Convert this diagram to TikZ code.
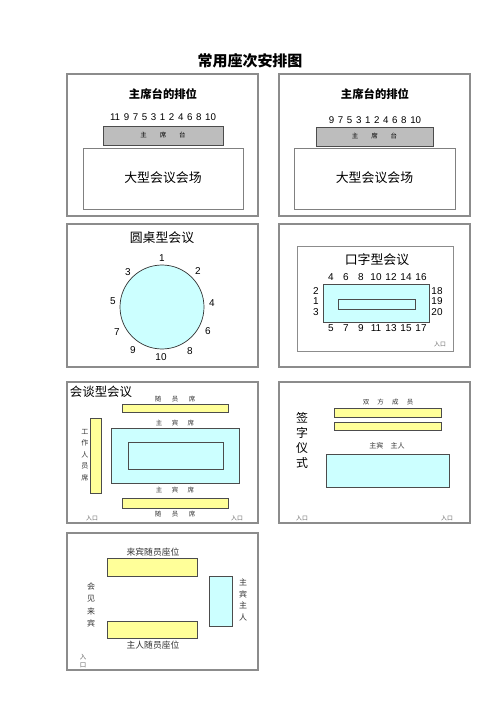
\documentclass[tikz,border=0pt]{standalone}
\usepackage{fontspec}
\setmainfont{Liberation Sans}
\newfontfamily\cjk{Noto Sans CJK SC}
\newcommand{\fsz}[2]{\fontsize{#1}{#2}\selectfont}
\newcommand{\widespace}{\spaceskip=3.1pt\relax}
\definecolor{tablecyan}{HTML}{CCFFFF}
\definecolor{seatyellow}{HTML}{FFFF99}
\definecolor{stagegray}{HTML}{BDBDBD}
\begin{document}
\begin{tikzpicture}[x=0.3mm, y=-0.3mm,
    panel/.style={draw=black!45, line width=1pt},
    outline/.style={draw=black!70, line width=0.6pt},
    seaty/.style={outline, fill=seatyellow},
    seatc/.style={outline, fill=tablecyan},
    head/.style={inner sep=0pt, font=\cjk\bfseries\fsz{9.7}{12}},
    big/.style={inner sep=0pt, font=\cjk\fsz{11}{13}},
    lbl/.style={inner sep=0pt, font=\cjk\fsz{5.5}{8}, text=black!80},
    num/.style={inner sep=0pt, font=\fsz{8.5}{10}},
    numrow/.style={inner sep=0pt, font=\fsz{8.3}{10}},
    door/.style={inner sep=0pt, font=\cjk\fsz{5}{6}, text=black!60}]
    \useasboundingbox[fill=white] (0,0) rectangle (500,708);

    \node[inner sep=0pt, font=\cjk\bfseries\fsz{12.8}{15}] (title) at (250,61) {常用座次安排图};

    % --- 主席台 (单数) ---
    \draw[panel] (67,74) rectangle (258,216);
    \node[head] (h1) at (163,94) {主席台的排位};
    \node[numrow] (n1) at (163,117) {\widespace 11 9 7 5 3 1 2 4 6 8 10};
    \draw[outline, fill=stagegray] (103,126) rectangle (223,145);
    \node[lbl, text=black] (s1) at (163,135.5) {主\hspace{11pt}席\hspace{11pt}台};
    \draw[outline, draw=black!50] (83,148) rectangle (243,209);
    \node[big] (hall1) at (163,178) {大型会议会场};

    % --- 主席台 (双数) ---
    \draw[panel] (279,74) rectangle (470,216);
    \node[head] (h2) at (375,94) {主席台的排位};
    \node[numrow] (n2) at (375,120) {\widespace 9 7 5 3 1 2 4 6 8 10};
    \draw[outline, fill=stagegray] (316,127) rectangle (433,146);
    \node[lbl, text=black] (s2) at (374.5,136.5) {主\hspace{11pt}席\hspace{11pt}台};
    \draw[outline, draw=black!50] (294,148) rectangle (455,209);
    \node[big] (hall2) at (374.5,178) {大型会议会场};

    % --- 圆桌型会议 ---
    \draw[panel] (67,224) rectangle (258,367);
    \node[big] (h3) at (162,238) {圆桌型会议};
    \draw[outline, draw=black!80, fill=tablecyan] (162,307) circle[radius=12.6mm];
    \foreach \n/\x/\y in {1/162/258, 2/198/271, 3/128/272, 4/212/303, 5/113/301,
                          6/208/331, 7/117/332, 8/190/351, 9/133/350, 10/161/357} {
        \node[num] (r\n) at (\x,\y) {\n};
    }

    % --- 口字型会议 ---
    \draw[panel] (279,224) rectangle (470,367);
    \draw[panel, line width=0.8pt] (297,246) rectangle (453,351);
    \node[big] (h4) at (377,260) {口字型会议};
    \draw[seatc] (323,284) rectangle (429,322);
    \draw[outline, fill=tablecyan] (338,299) rectangle (415,309);
    \foreach \n [count=\i] in {4,6,...,16} {
        \node[num] (t\n) at (316+15*\i,277) {\n};
    }
    \foreach \n [count=\i] in {5,7,...,17} {
        \node[num] (b\n) at (316+15*\i,328) {\n};
    }
    \foreach \n/\y in {2/291, 1/301, 3/312} {
        \node[num] (l\n) at (316,\y) {\n};
    }
    \foreach \n/\y in {18/291, 19/301, 20/312} {
        \node[num] (r\n) at (437,\y) {\n};
    }
    \node[door] (d4) at (440,344) {入口};

    % --- 会谈型会议 ---
    \draw[panel] (67,382) rectangle (258,523);
    \node[inner sep=0pt, font=\cjk\fsz{10.6}{13}] (h5) at (101,392) {会谈型会议};
    \node[lbl] (f1) at (175,399) {随\hspace{9pt}员\hspace{9pt}席};
    \draw[seaty] (122,404) rectangle (228,412);
    \node[lbl] (g1) at (175,423) {主\hspace{8pt}宾\hspace{8pt}席};
    \draw[seatc] (111,428) rectangle (239,483);
    \draw[outline, fill=tablecyan] (128,442) rectangle (223,469);
    \node[lbl] (g2) at (175,490) {主\hspace{8pt}宾\hspace{8pt}席};
    \draw[seaty] (122,498) rectangle (228,508);
    \node[lbl] (f2) at (175,514) {随\hspace{9pt}员\hspace{9pt}席};
    \draw[seaty] (90,418) rectangle (101,493);
    \node[lbl, font=\cjk\fsz{6}{9.8}, align=center] (staff) at (85,455) {工\\作\\人\\员\\席};
    \node[door] (d5a) at (92,518) {入口};
    \node[door] (d5b) at (237,518) {入口};

    % --- 签字仪式 ---
    \draw[panel] (279,382) rectangle (470,523);
    \node[lbl] (both) at (388,402) {双\hspace{7pt}方\hspace{7pt}成\hspace{7pt}员};
    \draw[seaty] (334,408) rectangle (441,417);
    \draw[seaty] (334,422) rectangle (441,430);
    \node[lbl, font=\cjk\fsz{6}{8}] (host6) at (387,446) {主宾\hspace{6pt}主人};
    \draw[seatc] (326,454) rectangle (449,487);
    \node[inner sep=0pt, font=\cjk\fsz{10.2}{12.8}, align=center] (h6) at (302,440) {签\\字\\仪\\式};
    \node[door] (d6a) at (302,518) {入口};
    \node[door] (d6b) at (447,518) {入口};

    % --- 会见来宾 ---
    \draw[panel] (67,533) rectangle (258,670);
    \node[lbl, font=\cjk\fsz{7.5}{9}] (guest) at (153,552) {来宾随员座位};
    \draw[seaty] (107,558) rectangle (197,576);
    \draw[seaty] (107,621) rectangle (197,638);
    \node[lbl, font=\cjk\fsz{7.5}{9}] (hostf) at (153,645) {主人随员座位};
    \draw[seatc] (209,576) rectangle (232,626);
    \node[lbl, font=\cjk\fsz{6.8}{9.8}, align=center] (host7) at (243,600) {主\\宾\\主\\人};
    \node[lbl, font=\cjk\fsz{6.8}{10.5}, align=center] (h7) at (91,605) {会\\见\\来\\宾};
    \node[door, align=center, font=\cjk\fsz{5.5}{7.5}] (d7) at (83,661) {入\\口};
\end{tikzpicture}
\end{document}
